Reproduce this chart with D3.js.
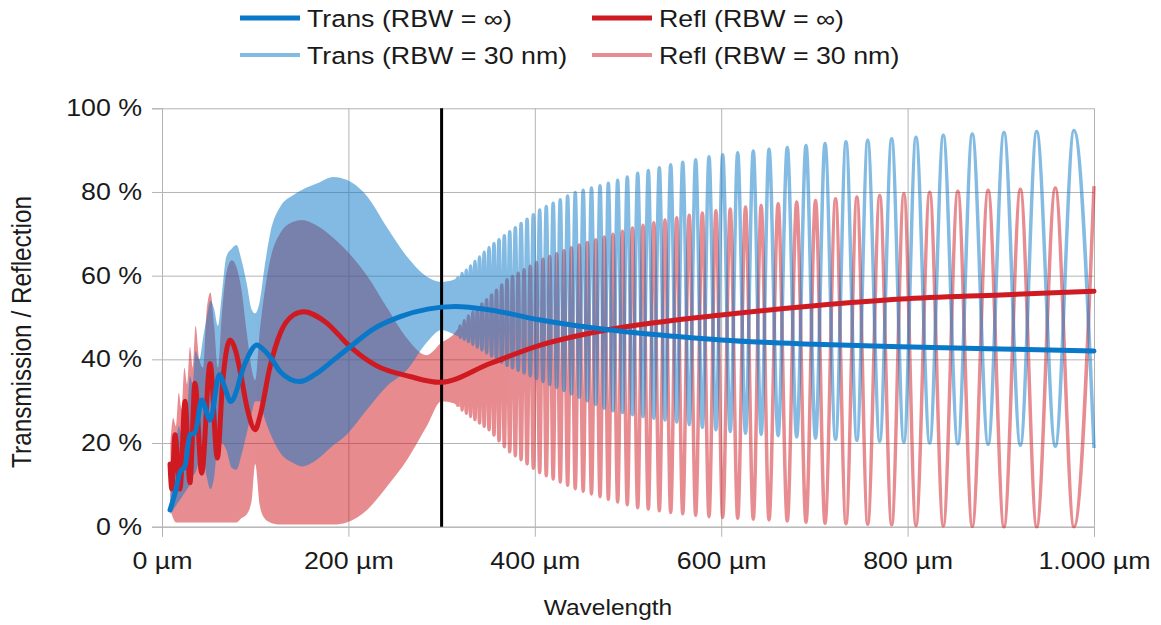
<!DOCTYPE html>
<html>
<head>
<meta charset="utf-8">
<script src="https://cdn.jsdelivr.net/npm/d3@7"></script>
<style>
  body { margin: 0; background: #fff; }
  svg text { font-family: "Liberation Sans", Arial, sans-serif; fill: #1a1a1a; }
</style>
</head>
<body>
<div id="chart"></div>
<script>
// wavelength in µm, values in %
var xTicks = [0, 200, 400, 600, 800, 1000];
var yTicks = [0, 20, 40, 60, 80, 100];
var markerX = 300;

// averaged curves (RBW = ∞)
var transX = [8.6, 14, 19.3, 24.7, 30, 35.4, 42.6, 51.6, 61.6, 67, 73.8, 80, 85, 92, 101.7, 108, 116, 127, 138, 148, 165, 185, 202, 225, 255.6, 285, 315, 352, 406, 481, 550, 600, 700, 793, 900, 1000];
var transY = [4, 8, 13, 14.5, 22, 22.5, 30.3, 25.5, 36.3, 33.5, 29.9, 32.5, 36.5, 40.5, 43.4, 42.5, 40.6, 37, 35.2, 34.7, 36.5, 40, 43, 47, 50.2, 52, 52.6, 51.8, 49.4, 47, 45.5, 44.6, 43.6, 43, 42.5, 42];
var reflX = [8.6, 10.5, 14, 19.3, 24.7, 30, 35.4, 42.6, 51.6, 59.4, 65, 73, 79, 84, 91, 100, 105, 116, 127, 141, 152, 175, 202, 230, 266, 298, 352, 406, 460, 520, 600, 700, 793, 900, 1000];
var reflY = [15, 9, 22, 9, 30, 10.5, 34.3, 12.8, 39, 16.4, 34.3, 44.6, 42, 37, 28.7, 23.2, 26.3, 38.3, 46.3, 50.6, 51.4, 49, 43, 38.5, 35.9, 34.5, 39, 43.4, 46.3, 48.5, 50.6, 52.8, 54.4, 55.4, 56.3];

// envelopes of the resolved curves (RBW = 30 nm)
var envX = [9, 12, 15, 18, 21, 24, 27, 30, 33, 36, 40, 44, 48, 52, 56, 60, 64, 69, 75, 80, 85, 91, 96, 100, 105, 110, 116, 127, 141, 150, 166, 184, 198, 220, 241, 263, 284, 300, 313, 327, 352, 370, 406, 442, 478, 511, 546, 587, 618, 652, 712, 758, 810, 839, 904, 979, 1000];
var transHi = [8, 14, 20, 24, 22, 30, 28, 36, 34, 42, 40, 45, 50, 54, 52, 48, 55, 64.5, 66.5, 67.3, 64, 58, 52, 51, 54, 62, 70, 76.5, 79.3, 80.5, 82, 83.6, 82.9, 79, 71.7, 64.5, 59.8, 58.5, 59, 61.4, 67, 70, 75.8, 79.8, 82, 84.5, 86.5, 88.4, 89.4, 90.2, 91.6, 92.4, 93.1, 93.6, 94.2, 94.7, 95];
var transLo = [3, 4, 5, 6, 7, 8, 9, 10, 12, 13, 16, 18, 12, 9, 12, 20, 20, 18.4, 14, 13.6, 17, 22.4, 27, 30, 30, 26, 22.4, 17.6, 15.2, 14.4, 16, 19.5, 22, 28, 33.5, 37.5, 44, 47, 46, 44.5, 41, 38.6, 35, 31.5, 28, 26.5, 25.3, 23.4, 22.5, 21.9, 21, 20.5, 20.1, 19.9, 19.6, 19.1, 18.8];
var reflHi = [20, 26, 24, 32, 28, 38, 34, 43, 38, 48, 40, 38, 52, 56, 48, 38, 50, 60.6, 63.7, 62, 57, 46.3, 38, 35, 47, 56, 63.7, 70.2, 72.9, 73.3, 72, 69, 66, 60, 52.5, 45, 41, 44, 46, 50, 55, 59, 63.7, 66.9, 69.5, 71.8, 73.6, 75.3, 76.2, 77, 78.2, 79, 79.8, 80.1, 80.5, 81.1, 81.4];
var reflLo = [4, 2, 1, 1, 1, 1, 1, 1, 1, 1, 1, 1, 1, 1, 1, 1, 1, 1, 1, 1, 2, 3, 6, 15, 5, 2, 1, 0.5, 0.5, 0.5, 0.5, 0.5, 1, 4, 9.5, 16, 24, 30, 29.5, 27, 23, 18.4, 12.8, 9.2, 6.6, 4.5, 3.4, 2.4, 2, 1.6, 0.8, 0.6, 0.3, 0.2, 0, 0, 0];

// fringe positions: transmission maxima and the minima between them
var peakX = [317.7, 322.0, 326.5, 331.1, 335.8, 340.7, 345.7, 350.9, 356.2, 361.6, 367.3, 373.1, 379.1, 385.3, 391.7, 398.4, 405.2, 412.3, 419.7, 427.3, 435.2, 443.4, 451.9, 460.8, 470.0, 478.9, 488.9, 499.2, 510.4, 521.8, 533.6, 545.8, 558.7, 572.6, 586.9, 601.6, 617.7, 634.4, 651.3, 670.9, 691.0, 711.4, 733.9, 757.2, 782.9, 809.0, 838.3, 869.4, 903.4, 938.5, 978.5];
var dipX = [319.9, 324.3, 328.8, 333.5, 338.3, 343.2, 348.3, 353.6, 358.9, 364.5, 370.2, 376.1, 382.2, 388.5, 395.1, 401.8, 408.8, 416.0, 423.5, 431.3, 439.3, 447.7, 456.4, 465.4, 474.5, 483.9, 494.1, 504.8, 516.1, 527.7, 539.7, 552.3, 565.7, 579.8, 594.3, 609.7, 626.1, 642.9, 661.1, 681.0, 701.2, 722.7, 745.6, 770.1, 796.0, 823.7, 853.9, 886.4, 921.0, 958.5, 1000];

var blue = "#0a78c8";
var red = "#d01a22";

var width = 1161, height = 625;
var margin = {top: 108.3, right: 67, bottom: 98.3, left: 162};
var stretch = 1.14;

var x = d3.scaleLinear().domain([0, 1000]).range([margin.left, width - margin.right]);
var y = d3.scaleLinear().domain([0, 100]).range([height - margin.bottom, margin.top]);

var svg = d3.select("#chart").append("svg")
    .attr("width", width)
    .attr("height", height);

// grid
svg.append("g")
    .attr("transform", "translate(" + margin.left + ",0)")
    .call(d3.axisLeft(y).tickValues(yTicks).tickSize(-(x(1000) - x(0))).tickFormat(""))
    .call(g => g.select(".domain").remove())
    .call(g => g.selectAll("line").attr("stroke", "#b3b3b3"));

svg.append("g")
    .attr("transform", "translate(0," + margin.top + ")")
    .call(d3.axisBottom(x).tickValues(xTicks).tickSize(y(0) - y(100)).tickFormat(""))
    .call(g => g.select(".domain").remove())
    .call(g => g.selectAll("line").attr("stroke", "#b3b3b3"));

// axes with labels
var locale = d3.formatLocale({decimal: ",", thousands: ".", grouping: [3], currency: ["", ""]});
var fmt = locale.format(",");

svg.append("g")
    .attr("transform", "translate(" + margin.left + ",0)")
    .call(d3.axisLeft(y).tickValues(yTicks).tickSize(10).tickPadding(7.5).tickFormat(d => d + " %"))
    .call(g => g.select(".domain").attr("stroke", "#b3b3b3"))
    .call(g => g.selectAll("line").attr("stroke", "#b3b3b3"))
    .call(g => g.selectAll("text").attr("font-size", 23.5).attr("fill", "#1a1a1a")
        .attr("transform", "scale(" + stretch + ",1)"));

svg.append("g")
    .attr("transform", "translate(0," + y(0) + ")")
    .call(d3.axisBottom(x).tickValues(xTicks).tickSize(10).tickPadding(16).tickFormat(d => fmt(d) + " µm"))
    .call(g => g.select(".domain").attr("stroke", "#b3b3b3"))
    .call(g => g.selectAll("line").attr("stroke", "#b3b3b3"))
    .call(g => g.selectAll("text").attr("font-size", 23.5).attr("fill", "#1a1a1a")
        .attr("transform", "scale(" + stretch + ",1)"));

function label(str, px, py, anchor, rot, size) {
    return svg.append("text")
        .attr("transform", "translate(" + px + "," + py + ") scale(" + stretch + ",1)" + (rot ? " rotate(" + rot + ")" : ""))
        .attr("text-anchor", anchor)
        .attr("font-size", size || 23.5)
        .text(str);
}

label("Wavelength", 608, 615, "middle", 0, 21.5);
label("Transmission / Reflection", 31, 332, "middle", -90, 24.3);

// envelope lookups
var tHi = d3.scaleLinear().domain(envX).range(transHi);
var tLo = d3.scaleLinear().domain(envX).range(transLo);
var rHi = d3.scaleLinear().domain(envX).range(reflHi);
var rLo = d3.scaleLinear().domain(envX).range(reflLo);

var bandX = envX.filter(d => d < peakX[0]).concat([peakX[0]]);

function fringePoints(atPeak, atDip) {
    var pts = [];
    peakX.forEach(function(p, i) {
        pts.push([p, atPeak(p)]);
        pts.push([dipX[i], atDip(dipX[i])]);
    });
    return pts;
}

var band = d3.area()
    .x(d => x(d))
    .curve(d3.curveMonotoneX);

var line = d3.line()
    .x(d => x(d[0]))
    .y(d => y(d[1]))
    .curve(d3.curveMonotoneX);

function drawResolved(color, hi, lo, atPeak, atDip) {
    var g = svg.append("g").attr("opacity", 0.5);
    g.append("path")
        .datum(bandX)
        .attr("fill", color)
        .attr("d", band.y0(d => y(lo(d))).y1(d => y(hi(d))));
    g.append("path")
        .datum(fringePoints(atPeak, atDip))
        .attr("fill", "none")
        .attr("stroke", color)
        .attr("stroke-width", 3.5)
        .attr("stroke-linejoin", "round")
        .attr("d", line);
}

drawResolved(red, rHi, rLo, rLo, rHi);
drawResolved(blue, tHi, tLo, tHi, tLo);

// marker line
svg.append("line")
    .attr("x1", x(markerX)).attr("x2", x(markerX))
    .attr("y1", y(100)).attr("y2", y(0))
    .attr("stroke", "#000")
    .attr("stroke-width", 3);

svg.append("path")
    .datum(d3.zip(reflX, reflY))
    .attr("fill", "none")
    .attr("stroke", red)
    .attr("stroke-width", 5)
    .attr("stroke-linejoin", "round")
    .attr("stroke-linecap", "round")
    .attr("d", line);

svg.append("path")
    .datum(d3.zip(transX, transY))
    .attr("fill", "none")
    .attr("stroke", blue)
    .attr("stroke-width", 5)
    .attr("stroke-linejoin", "round")
    .attr("stroke-linecap", "round")
    .attr("d", line);

// legend
var legend = [
    {name: "Trans (RBW = ∞)", color: blue, op: 1, w: 5, col: 0, row: 0},
    {name: "Refl (RBW = ∞)", color: red, op: 1, w: 5, col: 1, row: 0},
    {name: "Trans (RBW = 30 nm)", color: blue, op: 0.5, w: 4, col: 0, row: 1},
    {name: "Refl (RBW = 30 nm)", color: red, op: 0.5, w: 4, col: 1, row: 1}
];
var legX = [240, 592], legY = [18, 55];

legend.forEach(function(d) {
    var lx = legX[d.col], ly = legY[d.row];
    svg.append("line")
        .attr("x1", lx).attr("x2", lx + 60)
        .attr("y1", ly).attr("y2", ly)
        .attr("stroke", d.color)
        .attr("stroke-opacity", d.op)
        .attr("stroke-width", d.w);
    label(d.name, lx + 67, ly + 8.5, "start");
});
</script>
</body>
</html>
